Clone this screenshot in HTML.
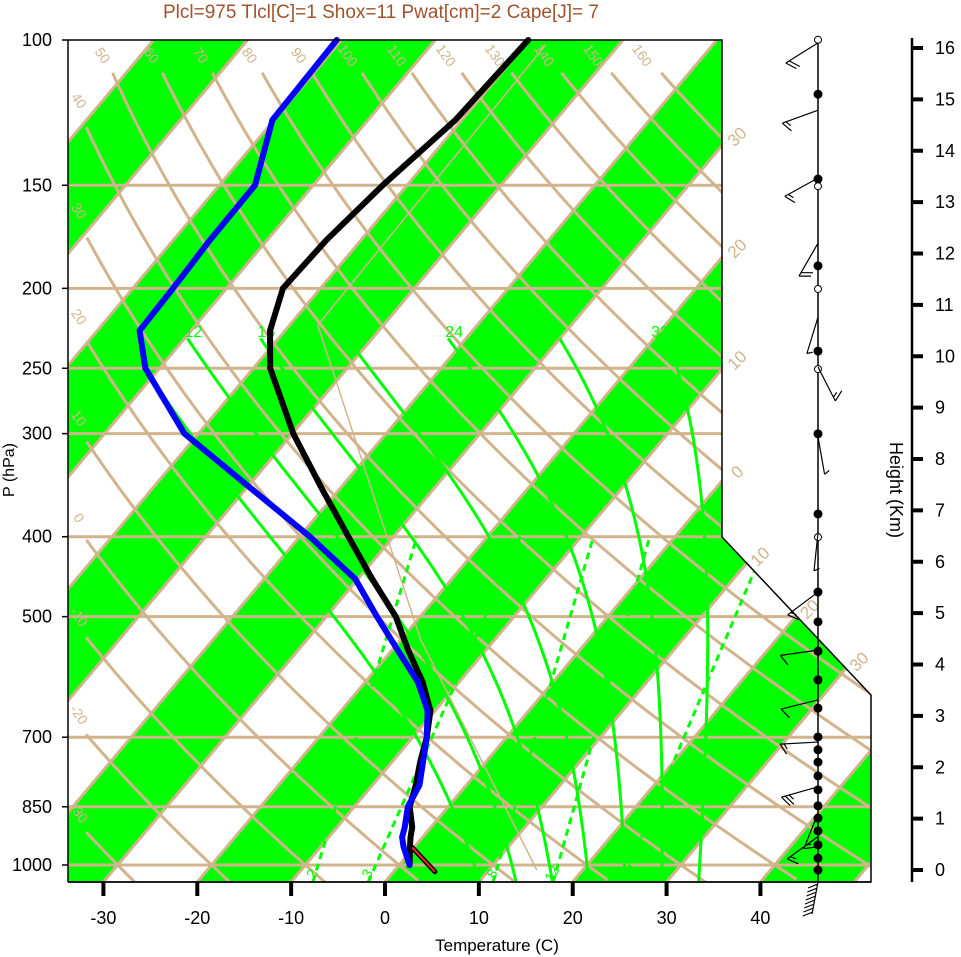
<!DOCTYPE html>
<html><head><meta charset="utf-8"><style>
html,body{margin:0;padding:0;background:#fff;}
svg{display:block;font-family:"Liberation Sans",Arial,sans-serif;}
</style></head><body>
<svg id="chart" width="961" height="957" viewBox="0 0 961 957" xmlns="http://www.w3.org/2000/svg">
<defs><clipPath id="plotclip"><polygon points="68,40 722,40 722,537 871,695 871,882 68,882"/></clipPath></defs>
<text x="381" y="18" text-anchor="middle" font-size="19" fill="#a0522d">Plcl=975 Tlcl[C]=1 Shox=11 Pwat[cm]=2 Cape[J]= 7</text>
<g id="bg" clip-path="url(#plotclip)"></g>
<g id="bglabels"></g>
<g id="series"></g>
<polyline points="68,882 68,40 722,40 722,537 871,695 871,882 68,882" fill="none" stroke="#000" stroke-width="1.5"/>
<g id="axes"></g>
<g id="wind"></g>
<text transform="translate(14,470) rotate(-90)" text-anchor="middle" font-size="16">P (hPa)</text>
<text x="497" y="951" text-anchor="middle" font-size="17">Temperature (C)</text>
<text transform="translate(890,490) rotate(90)" text-anchor="middle" font-size="18">Height (Km)</text>
</svg>
<script>
// ---- data ----
const pLevels = [1000,950,925,900,850,800,750,700,650,600,550,500,450,400,350,300,250,225,200,175,150,125,100];
const tempC   = [1.1,-0.5,-1.3,-2.0,-4.1,-5.4,-7.0,-8.5,-10.5,-13.9,-18.2,-22.6,-28.5,-34.8,-41.9,-49.9,-58.2,-61.6,-64.0,-63.7,-62.6,-60.7,-60.1];
const dewC    = [1.1,-1.2,-2.2,-2.8,-4.3,-5.0,-6.7,-8.5,-10.8,-14.4,-19.3,-24.6,-30.3,-38.9,-49.4,-61.5,-71.5,-75.5,-75.7,-76.1,-76.2,-80.2,-80.5];
const parcelP = [1014,533,221.6,101.4];
const parcelT = [15.1,-17.9,-57.0,-57.8];
const sfcP = [952,1019];
const sfcT = [-0.2,4.4];
const isobars = [150,200,250,300,400,500,700,850,1000];
const pTickLabels = ["100","150","200","250","300","400","500","700","850","1000"];
const pTicks = [100,150,200,250,300,400,500,700,850,1000];
const tTicks = [-30,-20,-10,0,10,20,30,40];
const thetaTop = [50,60,70,80,90,100,110,120,130,140,150,160];
const thetaLeft = [40,30,20,10,0,-10,-20,-30];
const moistThw = [8,12,16,20,24,28,32];
const moistLabels = [12,16,24,32];
const mrLabels = ["2","3","8","12","20"];
const mrBottomT = [-7.7,-1.8,11.5,17.9,25.3];
const mrTopT = [-27.5,-16.5,-8.7,-2.7,10.0];
const mrShowLabel = [true,true,true,true,false];
const hTicks = [0,1,2,3,4,5,6,7,8,9,10,11,12,13,14,15,16];
const barbH = [16.1,14.79,13.47,12.2,10.76,9.79,8.43,6.56,5.41,4.28,3.31,2.49,1.62,1.1,0.65];
const barbDir = [238,250,241,210,197,153,170,186,233,262,256,267,254,202,234];
const barbSpd = [20,15,15,20,5,15,5,5,15,10,10,15,25,15,15];
const dotFilledH = [15.1,13.45,11.76,10.1,8.49,6.93,5.41,4.83,4.26,3.70,3.15,2.59,2.34,2.10,1.83,1.56,1.25,1.01,0.76,0.49,0.23,0.0];
const dotHollowH = [16.16,13.31,11.31,9.75,6.48];

// ---- scales ----
const NS="http://www.w3.org/2000/svg";
const PY = p => 40 + 825*Math.log10(p/100);
const SX = (T,p) => 385 + 9.386*T + 0.84*(882 - PY(p));
const XatY = (T,y) => 385 + 9.386*T + 0.84*(882 - y);
const HY = h => 870 - 51.375*h;
function mk(tag, attrs, parent){const e=document.createElementNS(NS,tag);for(const k in attrs)e.setAttribute(k,attrs[k]);parent.appendChild(e);return e;}
const bg=document.getElementById('bg'), bgl=document.getElementById('bglabels'), ser=document.getElementById('series'), ax=document.getElementById('axes'), wind=document.getElementById('wind');
const TAN="#d2b48c", GRN="#00ff00";

// green isotherm bands
for(let k=-12;k<=6;k++){
  if(((k%2)+2)%2!==0) continue;
  const T1=k*10,T2=k*10+10;
  const e=mk('polygon',{points:`${XatY(T1,882)},882 ${XatY(T2,882)},882 ${XatY(T2,40)},40 ${XatY(T1,40)},40`,fill:GRN,stroke:'none'},bg);
  
  
}
// isotherms
for(let T=-120;T<=60;T+=10){
  const e=mk('line',{x1:XatY(T,882),y1:882,x2:XatY(T,40),y2:40,stroke:TAN,'stroke-width':3},bg);
  
  
}
// isobars
isobars.forEach(p=>{
  const e=mk('line',{x1:68,y1:PY(p),x2:871,y2:PY(p),stroke:TAN,'stroke-width':3},bg);
  
  
});
// dry adiabats
const dryT=(th,p)=>(th+273.15)*Math.pow(p/1000,0.286)-273.15;
for(let th=-30;th<=160;th+=10){
  const pts=[];
  let p0=109.6;
  while(p0<1050 && SX(dryT(th,p0),p0)<86)p0+=1;
  for(let p=p0;p<=1060;p*=1.02){pts.push(SX(dryT(th,p),p).toFixed(1)+','+PY(p).toFixed(1));}
  const e=mk('polyline',{points:pts.join(' '),fill:'none',stroke:TAN,'stroke-width':3},bg);
  
  
}
// moist adiabats
function dTdp(T,p){const es=6.112*Math.exp(17.67*(T-273.15)/(T-29.65));const rs=0.622*es/(p-es);
  return ((287*T+2.5e6*rs)/p)/(1004+(2.5e6*2.5e6*rs*0.622)/(287*T*T));}
const moistTop={};
moistThw.forEach(tw=>{
  let T=tw+273.15;const up=[[1000,T]];
  for(let p=1000;p>230;p-=2){T+= -2*dTdp(T,p);up.push([p-2,T]);}
  let T2=tw+273.15;const dn=[];
  for(let p=1000;p<1052;p+=2){T2+=2*dTdp(T2,p);dn.push([p+2,T2]);}
  const all=up.reverse().concat(dn);
  moistTop[tw]=SX(all[0][1]-273.15,all[0][0]);
  const e=mk('polyline',{points:all.map(a=>SX(a[1]-273.15,a[0]).toFixed(1)+','+PY(a[0]).toFixed(1)).join(' '),fill:'none',stroke:GRN,'stroke-width':3},bg);
  
  
});
// mixing ratio lines
mrLabels.forEach((w,i)=>{
  const e=mk('line',{x1:SX(mrBottomT[i],1048),y1:882,x2:SX(mrTopT[i],400),y2:PY(400),stroke:GRN,'stroke-width':3,'stroke-dasharray':'7,5'},bg);
  
  
  if(mrShowLabel[i]){
    const x=SX(mrBottomT[i],1048)+3;
    const t=mk('text',{x:x,y:876,'font-size':14,fill:GRN,transform:`rotate(-60 ${x} 876)`,'text-anchor':'middle'},bgl);
    t.textContent=w;
    
    
  }
});
// moist labels
moistLabels.forEach(tw=>{
  const t=mk('text',{x:Math.min(moistTop[tw]+6,660),y:337,'font-size':16,fill:GRN,'text-anchor':'middle'},bgl);
  t.textContent=tw;
  
  
});
// dry adiabat labels top
thetaTop.forEach(th=>{
  const p=103.5,x=SX(dryT(th,p),p)-2,y=56;
  const t=mk('text',{x:x,y:y,'font-size':14,fill:TAN,'text-anchor':'middle','dominant-baseline':'middle',transform:`rotate(55 ${x} ${y})`},bgl);
  t.textContent=th;
  
  
});
// dry adiabat labels left
thetaLeft.forEach(th=>{
  let p=105;while(p<1050 && SX(dryT(th,p),p)<78)p+=1;
  const x=78,y=PY(p)-10;
  const t=mk('text',{x:x,y:y,'font-size':14,fill:TAN,'text-anchor':'middle','dominant-baseline':'middle',transform:`rotate(55 ${x} ${y})`},bgl);
  t.textContent=th;
  
  
});
// isotherm labels at right
[-30,-20,-10,0].forEach(T=>{
  const y=882-(722-385-9.386*T)/0.84, x=738;
  const t=mk('text',{x:x,y:y-8,'font-size':17,fill:TAN,'text-anchor':'middle','dominant-baseline':'middle',transform:`rotate(-45 ${x} ${y-8})`},bgl);
  t.textContent=Math.abs(T);
  
  
});
[10,20,30].forEach(T=>{
  let y=537;while(y<695 && XatY(T,y) > 722+(y-537)*149/158)y+=0.5;
  const x=722+(y-537)*149/158+14;
  const t=mk('text',{x:x,y:y-6,'font-size':17,fill:TAN,'text-anchor':'middle','dominant-baseline':'middle',transform:`rotate(-45 ${x} ${y-6})`},bgl);
  t.textContent=T;
  
  
});

// ---- series ----
const pr=mk('polyline',{points:parcelP.map((p,i)=>SX(parcelT[i],p).toFixed(1)+','+PY(p).toFixed(1)).join(' '),fill:'none',stroke:TAN,'stroke-width':1.5},ser);


const tl=mk('polyline',{points:pLevels.map((p,i)=>SX(tempC[i],p).toFixed(1)+','+PY(p).toFixed(1)).join(' '),fill:'none',stroke:'#000','stroke-width':6,'stroke-linejoin':'round','stroke-linecap':'round'},ser);


const dl=mk('polyline',{points:pLevels.map((p,i)=>SX(dewC[i],p).toFixed(1)+','+PY(p).toFixed(1)).join(' '),fill:'none',stroke:'#0000ff','stroke-width':6,'stroke-linejoin':'round','stroke-linecap':'round'},ser);


const sp=sfcP.map((p,i)=>SX(sfcT[i],p).toFixed(1)+','+PY(p).toFixed(1)).join(' ');
const s1=mk('polyline',{points:sp,fill:'none',stroke:'#000','stroke-width':5,'stroke-linecap':'round'},ser);


const s2=mk('polyline',{points:sp,fill:'none',stroke:'#ff2020','stroke-width':2},ser);



// ---- axes ----
mk('line',{x1:68,y1:882,x2:871,y2:882,stroke:'#000','stroke-width':1.5},ax);
pTicks.forEach((p,i)=>{
  const y=PY(p);
  mk('line',{x1:62,y1:y,x2:68,y2:y,stroke:'#000','stroke-width':1.5},ax);
  const t=mk('text',{x:52,y:y+6,'font-size':18,'text-anchor':'end'},ax);
  t.textContent=pTickLabels[i];
  
  
});
tTicks.forEach(T=>{
  const x=385+9.386*T;
  mk('line',{x1:x,y1:882,x2:x,y2:896,stroke:'#000','stroke-width':4},ax);
  const t=mk('text',{x:x,y:924,'font-size':18,'text-anchor':'middle'},ax);
  t.textContent=T;
  
  
});
mk('line',{x1:912,y1:38,x2:912,y2:882,stroke:'#000','stroke-width':2.5},ax);
hTicks.forEach(h=>{
  const y=HY(h);
  mk('line',{x1:912,y1:y,x2:923,y2:y,stroke:'#000','stroke-width':4},ax);
  const t=mk('text',{x:935,y:y+6,'font-size':18},ax);
  t.textContent=h;
  
  
});

// ---- wind ----
mk('line',{x1:818,y1:38,x2:818,y2:882,stroke:'#000','stroke-width':1.5},wind);
dotFilledH.forEach(h=>{
  const c=mk('circle',{cx:818,cy:HY(h),r:4.5,fill:'#000'},wind);
  
  
});
dotHollowH.forEach(h=>{
  const c=mk('circle',{cx:818,cy:HY(h),r:3.5,fill:'#fff',stroke:'#000','stroke-width':1},wind);
  
  
});
barbH.forEach((h,i)=>{
  const a=barbDir[i]*Math.PI/180, L=38;
  const ux=Math.sin(a), uy=-Math.cos(a);
  const bx=818, by=HY(h), tx=bx+L*ux, ty=by+L*uy;
  let d=`M${bx},${by} L${tx.toFixed(1)},${ty.toFixed(1)}`;
  const fa=a-Math.PI*2/3;
  const fx=Math.sin(fa), fy=-Math.cos(fa);
  let n=Math.round(barbSpd[i]/5), k=0;
  while(n>0){
    const len=n>=2?12:6;
    const px=tx-ux*k*4, py=ty-uy*k*4;
    d+=` M${px.toFixed(1)},${py.toFixed(1)} l${(fx*len).toFixed(1)},${(fy*len).toFixed(1)}`;
    n-=(n>=2?2:1);k++;
  }
  const e=mk('path',{d:d,fill:'none',stroke:'#000','stroke-width':1.2},wind);
  
  
});
(function(){
  let d='M818,882 L812,914';
  for(let k=0;k<8;k++){const y=884+k*4;const x=818-6*(k*4)/32;d+=` M${x.toFixed(1)},${y} l-10,4`;}
  const e=mk('path',{d:d,fill:'none',stroke:'#000','stroke-width':1.2},wind);
  
  
})();
</script>
</body></html>
